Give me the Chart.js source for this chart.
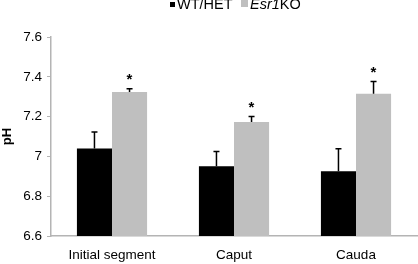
<!DOCTYPE html>
<html>
<head>
<meta charset="utf-8">
<script src="https://cdn.jsdelivr.net/npm/chart.js@4"></script>
<style>
  html, body { margin: 0; padding: 0; background: #fff; overflow: hidden; }
  #wrap { position: relative; width: 418px; height: 264px; font-family: "Liberation Sans", Arial, sans-serif; }
  #bar-chart { display: block; }
  #legend { position: absolute; top: -4px; left: 0; width: 418px; font-size: 14.5px; color: #000; }
  #legend span { position: absolute; white-space: nowrap; }
  .box { display: inline-block; position: absolute; }
</style>
</head>
<body>
<div id="wrap">
  <canvas id="bar-chart" width="418" height="264"></canvas>
  <div id="legend">
    <span class="box" style="left:170px; top:6px; width:5px; height:5px; background:#000;"></span>
    <span style="left:177px; top:0;">WT/HET</span>
    <span class="box" style="left:241px; top:4px; width:7px; height:7px; background:#bfbfbf;"></span>
    <span style="left:250px; top:0;"><i>Esr1</i>KO</span>
  </div>
</div>
<script>
// ---------------------------------------------------
const categories = [ 'Initial segment', 'Caput', 'Cauda' ];
const wtMean = [ 7.04, 6.95, 6.925 ];
const wtErr = [ 0.082, 0.074, 0.113 ];
const koMean = [ 7.323, 7.173, 7.315 ];
const koErr = [ 0.017, 0.028, 0.061 ];
const koStar = [ true, true, true ];
const yTicks = [ 6.6, 6.8, 7, 7.2, 7.4, 7.6 ];
// ---------------------------------------------------
const errors = [ wtErr, koErr ];
const stars = [ null, koStar ];

const errorBarPlugin = {
    id: 'errorBars',
    afterDatasetsDraw( chart ) {
        const ctx = chart.ctx;
        const yScale = chart.scales.y;
        chart.data.datasets.forEach( function ( ds, i ) {
            const meta = chart.getDatasetMeta( i );
            meta.data.forEach( function ( bar, j ) {
                const top = yScale.getPixelForValue( ds.data[ j ] + errors[ i ][ j ] );
                ctx.save();
                ctx.strokeStyle = '#000';
                ctx.lineWidth = 1.5;
                ctx.beginPath();
                ctx.moveTo( bar.x, bar.y );
                ctx.lineTo( bar.x, top );
                ctx.moveTo( bar.x - 3, top );
                ctx.lineTo( bar.x + 3, top );
                ctx.stroke();
                if ( stars[ i ] && stars[ i ][ j ] ) {
                    ctx.fillStyle = '#000';
                    ctx.font = 'bold 15px "Liberation Sans", Arial, sans-serif';
                    ctx.textAlign = 'center';
                    ctx.textBaseline = 'bottom';
                    ctx.fillText( '*', bar.x, top - 1 );
                }
                ctx.restore();
            });
        });
    }
};

const axisColor = '#b4b4b4';
const font = { family: '"Liberation Sans", Arial, sans-serif', size: 13.5 };

new Chart( document.querySelector( '#bar-chart' ), {
    type: 'bar',
    data: {
        labels: categories,
        datasets: [
            { label: 'WT/HET', data: wtMean, backgroundColor: '#000000' },
            { label: 'Esr1KO', data: koMean, backgroundColor: '#bfbfbf' }
        ]
    },
    options: {
        responsive: false,
        animation: false,
        layout: { padding: { top: 37, right: 1, bottom: 0, left: 0 } },
        datasets: { bar: { categoryPercentage: 0.575, barPercentage: 1 } },
        plugins: { legend: { display: false }, tooltip: { enabled: false } },
        scales: {
            x: {
                grid: { display: false },
                border: { color: axisColor, width: 1.5 },
                ticks: { color: '#000', font: font, padding: 3 },
                afterFit( scale ) { scale.height = 28; }
            },
            y: {
                min: 6.6,
                max: 7.6,
                afterBuildTicks( scale ) {
                    scale.ticks = yTicks.map( function ( v ) { return { value: v }; } );
                },
                grid: { drawOnChartArea: false, drawTicks: true, tickLength: 4, color: axisColor },
                border: { color: axisColor, width: 1.5 },
                ticks: {
                    color: '#000',
                    font: font,
                    padding: 5,
                    callback: function ( v ) { return String( Number( v.toFixed( 1 ) ) ); }
                },
                title: {
                    display: true,
                    text: 'pH',
                    color: '#000',
                    font: { family: font.family, size: 13, weight: 'bold' },
                    padding: { top: 0, bottom: 0 }
                },
                afterFit( scale ) { scale.width = 51; }
            }
        }
    },
    plugins: [ errorBarPlugin ]
});
</script>
</body>
</html>
